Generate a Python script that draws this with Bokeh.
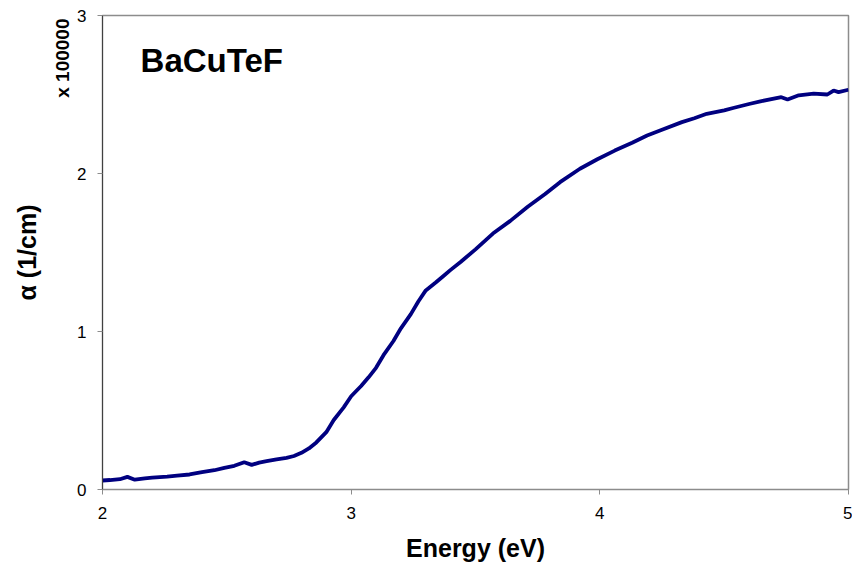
from bokeh.plotting import figure
from bokeh.models import Label, Range1d, FixedTicker, Title
from bokeh.embed import file_html
from bokeh.resources import INLINE

# Energy (eV)
energy = [2.00, 2.03, 2.07, 2.10, 2.13, 2.17, 2.20, 2.26, 2.30, 2.35, 2.40, 2.45,
          2.49, 2.53, 2.57, 2.60, 2.63, 2.66, 2.70, 2.74, 2.77, 2.80, 2.83, 2.86,
          2.90, 2.93, 2.97, 3.00, 3.04, 3.07, 3.10, 3.13, 3.17, 3.20, 3.24, 3.27,
          3.30, 3.34, 3.37, 3.40, 3.44, 3.50, 3.57, 3.64, 3.71, 3.78, 3.84, 3.92,
          3.99, 4.06, 4.13, 4.19, 4.25, 4.33, 4.38, 4.43, 4.50, 4.54, 4.60, 4.65,
          4.73, 4.755, 4.80, 4.86, 4.915, 4.94, 4.96, 5.00]
# absorption coefficient alpha (x 100000 1/cm)
alpha = [0.057, 0.060, 0.065, 0.080, 0.062, 0.070, 0.075, 0.082, 0.088, 0.095, 0.110, 0.122,
         0.137, 0.150, 0.173, 0.156, 0.170, 0.179, 0.190, 0.200, 0.212, 0.232, 0.260, 0.298,
         0.363, 0.440, 0.520, 0.590, 0.655, 0.710, 0.770, 0.850, 0.940, 1.020, 1.110, 1.190,
         1.260, 1.310, 1.350, 1.390, 1.440, 1.520, 1.620, 1.700, 1.790, 1.870, 1.945, 2.030,
         2.090, 2.145, 2.195, 2.240, 2.277, 2.325, 2.350, 2.378, 2.400, 2.416, 2.440, 2.458,
         2.483, 2.468, 2.495, 2.505, 2.500, 2.525, 2.515, 2.530]

x_ticks = [2, 3, 4, 5]
y_ticks = [0, 1, 2, 3]

title_text = "BaCuTeF"
scale_text = "x 100000"
x_label = "Energy (eV)"
y_label = "\u03b1 (1/cm)"

FONT = "Liberation Sans"

p = figure(width=852, height=567, output_backend="svg", toolbar_location=None,
           x_range=Range1d(2, 5), y_range=Range1d(0, 3),
           min_border_left=102, min_border_right=4, min_border_top=15, min_border_bottom=78)

p.line(energy, alpha, line_color="#000080", line_width=3.8)

p.xgrid.visible = False
p.ygrid.visible = False
p.outline_line_color = "#8c8c8c"
p.outline_line_width = 1.5
p.background_fill_color = "white"
p.border_fill_color = "white"

p.xaxis.ticker = FixedTicker(ticks=x_ticks)
p.yaxis.ticker = FixedTicker(ticks=y_ticks)
for ax in (p.xaxis[0], p.yaxis[0]):
    ax.minor_tick_line_color = None
    ax.major_tick_in = 0
    ax.major_tick_out = 5
    ax.major_label_text_font = FONT
    ax.major_label_text_font_size = "17px"
    ax.major_label_text_color = "black"
    ax.axis_label_text_font = FONT
    ax.axis_label_text_font_style = "bold"
    ax.axis_label_text_font_size = "25px"
    ax.axis_label_text_color = "black"

p.xaxis.axis_line_color = "#8c8c8c"
p.xaxis.major_tick_line_color = "#8c8c8c"
p.yaxis.axis_line_color = "#404040"
p.yaxis.major_tick_line_color = "#8c8c8c"
p.xaxis.major_label_standoff = 12
p.yaxis.major_label_standoff = 11
p.xaxis.axis_label = x_label
p.xaxis.axis_label_standoff = 12

# left-side texts: scale factor (inner) and axis title (outer)
p.add_layout(Title(text=scale_text, align="right", offset=3, standoff=4,
                   text_font=FONT, text_font_style="bold", text_font_size="19px",
                   text_color="black"), "left")
p.add_layout(Title(text=y_label, align="center", standoff=14,
                   text_font=FONT, text_font_style="bold", text_font_size="25px",
                   text_color="black"), "left")

p.add_layout(Label(x=2.153, y=2.716, text=title_text, text_font=FONT, text_font_style="bold",
                   text_font_size="33px", text_color="black", text_baseline="alphabetic"))

open("out.html", "w").write(file_html(p, INLINE))
